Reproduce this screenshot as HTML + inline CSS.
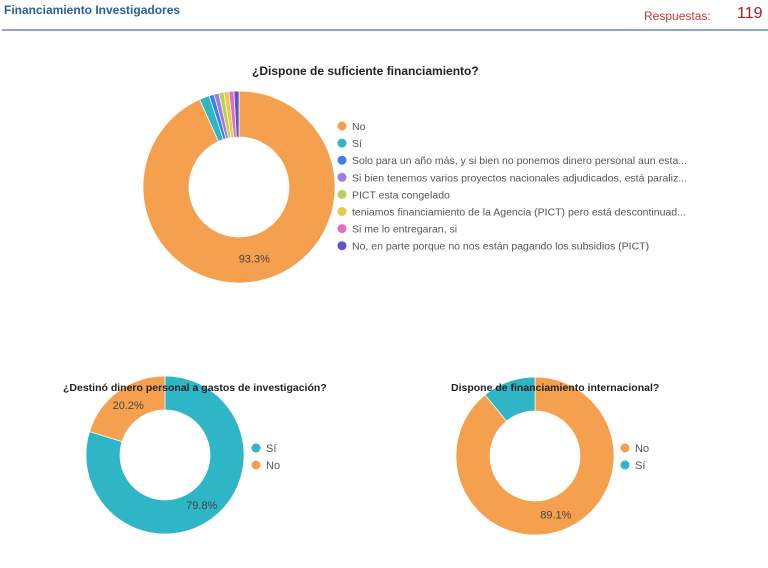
<!DOCTYPE html>
<html><head><meta charset="utf-8"><style>
body{margin:0;width:768px;height:568px;background:#fff;font-family:"Liberation Sans",sans-serif;overflow:hidden;position:relative}
.t{position:absolute;white-space:nowrap;z-index:2}
</style></head><body>
<svg id="s" width="768" height="568" style="position:absolute;left:0;top:0;z-index:1"></svg>
<div class="t" style="left:4px;top:3px;font-size:12px;font-weight:bold;color:#2a5d9f">Financiamiento Investigadores</div>
<div class="t" style="left:644px;top:9px;font-size:12px;color:#c0392b">Respuestas:</div>
<div class="t" style="left:737px;top:5px;font-size:16px;color:#a02020">119</div>
<div style="position:absolute;left:2px;top:29px;width:766px;height:2px;background:#8fa8c8"></div>
<div class="t" style="left:252px;top:64px;font-size:12px;font-weight:bold;color:#222">¿Dispone de suficiente financiamiento?</div>
<div class="t" style="left:63px;top:382px;font-size:10.5px;font-weight:bold;color:#222">¿Destinó dinero personal a gastos de investigación?</div>
<div class="t" style="left:451px;top:382px;font-size:10.5px;font-weight:bold;color:#222">Dispone de financiamiento internacional?</div>
<script>
const c1Labels=["No","Sí","Solo para un año más, y si bien no ponemos dinero personal aun esta...","Si bien tenemos varios proyectos nacionales adjudicados, está paraliz...","PICT esta congelado","teniamos financiamiento de la Agencia (PICT) pero está descontinuad...","Si me lo entregaran, si","No, en parte porque no nos están pagando los subsidios (PICT)"];
const c1Values=[111,2,1,1,1,1,1,1];
const c1Colors=["#f4a04f","#2eb5c6","#3d7ff0","#a07be8","#b9cf5a","#e9c94a","#e66cc2","#5a55c8"];
const c2Labels=["Sí","No"];
const c2Values=[79.8,20.2];
const c2Colors=["#2eb5c6","#f4a04f"];
const c3Labels=["No","Sí"];
const c3Values=[89.1,10.9];
const c3Colors=["#f4a04f","#2eb5c6"];
const NS="http://www.w3.org/2000/svg",svg=document.getElementById('s');
function pt(cx,cy,r,a){return [cx+r*Math.sin(a),cy-r*Math.cos(a)];}
function donut(name,vals,cols,cx,cy,R,r,labels,lx,ly,ls,fs){
 const tot=vals.reduce((a,b)=>a+b,0);let a0=0;
 vals.forEach((v,i)=>{const a1=a0+v/tot*2*Math.PI;const lg=(a1-a0)>Math.PI?1:0;
  const p1=pt(cx,cy,R,a0),p2=pt(cx,cy,R,a1),p3=pt(cx,cy,r,a1),p4=pt(cx,cy,r,a0);
  const p=document.createElementNS(NS,'path');
  p.setAttribute('d',`M${p1}A${R},${R} 0 ${lg} 1 ${p2}L${p3}A${r},${r} 0 ${lg} 0 ${p4}Z`);
  p.setAttribute('fill',cols[i]);p.setAttribute('stroke','#fff');p.setAttribute('stroke-width','0.7');
  
  
  svg.appendChild(p);
  if(v/tot>0.15){const m=pt(cx,cy,(R+r)/2,(a0+a1)/2);const t=document.createElementNS(NS,'text');
   t.setAttribute('x',m[0]);t.setAttribute('y',m[1]+4);t.setAttribute('text-anchor','middle');t.setAttribute('font-size','11');t.setAttribute('fill','#444');
   t.textContent=(v/tot*100).toFixed(1)+'%';
   
   
   svg.appendChild(t);}
  a0=a1;});
 labels.forEach((l,i)=>{const c=document.createElementNS(NS,'circle');c.setAttribute('cx',lx);c.setAttribute('cy',ly+i*ls);c.setAttribute('r',4.5);c.setAttribute('fill',cols[i]);
  
  
  svg.appendChild(c);
  const t=document.createElementNS(NS,'text');t.setAttribute('x',lx+10);t.setAttribute('y',ly+i*ls+4);t.setAttribute('font-size',fs);t.setAttribute('fill','#555');t.textContent=l;
  
  
  svg.appendChild(t);});
}
donut('chart1',c1Values,c1Colors,239,187,96,50,c1Labels,342,126,17.1,10.5);
donut('chart2',c2Values,c2Colors,165,455,79,45,c2Labels,256,448,17,11);
donut('chart3',c3Values,c3Colors,535,456,79,45,c3Labels,625,448,17,11);
</script>
</body></html>
